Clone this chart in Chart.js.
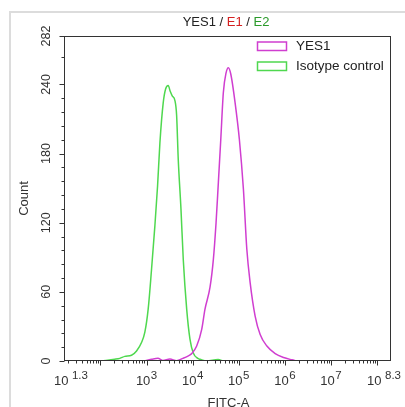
<!DOCTYPE html>
<html>
<head>
<meta charset="utf-8">
<script src="https://cdn.jsdelivr.net/npm/chart.js@4.4.1/dist/chart.umd.min.js"></script>
<style>
  html, body { margin: 0; padding: 0; background: #fff; }
  #wrap { width: 405px; height: 407px; position: relative; }
</style>
</head>
<body>
<div id="wrap"><canvas id="c" width="405" height="407"></canvas></div>
<script>
// ---- data (x = log10 of FITC-A intensity, y = count) ----
const yes1X = [2.637, 2.920, 3.109, 3.246, 3.354, 3.507, 3.652, 3.789, 3.898, 3.978, 4.087, 4.196, 4.267, 4.376, 4.448, 4.507, 4.557, 4.609, 4.665, 4.724, 4.774, 4.826, 4.920, 5.013, 5.100, 5.174, 5.246, 5.354, 5.463, 5.609, 5.789, 5.970, 6.152, 6.261];
const yes1Y = [0, 0, 1.5, 2.3, 0.5, 1.7, 0.3, 2.3, 4.3, 6.4, 13, 27.5, 45, 64, 88, 120, 155, 192, 233, 250, 254.5, 249, 224, 192, 149, 97, 68, 39, 23, 13, 6.4, 3, 1, 0];
const isoX = [2.022, 2.311, 2.420, 2.528, 2.674, 2.783, 2.891, 2.963, 3.035, 3.109, 3.180, 3.239, 3.289, 3.361, 3.413, 3.470, 3.513, 3.557, 3.615, 3.652, 3.687, 3.746, 3.796, 3.870, 3.941, 4.013, 4.122, 4.159, 4.304, 4.550, 4.659];
const isoY = [0, 1.5, 2.3, 4, 5, 8.7, 16, 25, 45, 80, 117, 152, 189, 224, 236, 239, 234, 230, 226, 213, 175, 132, 88, 45, 19, 7, 2, 1.5, 0, 1.2, 0];

const seriesNames = ['YES1', 'Isotype control'];
const seriesColors = ['#d03ed0', '#4fd84f'];

const xMin = 1.21, xMax = 8.3;
const xLabelPos = [1.3, 3, 4, 5, 6, 7, 8.3];
const xLabelExp = ['1.3', '3', '4', '5', '6', '7', '8.3'];
const xMajorTicks = [2, 3, 4, 5, 6, 7, 8];
const yMin = 0, yMax = 282;
const yTicks = [0, 60, 120, 180, 240, 282];
const yMinorTicks = [12, 24, 36, 48, 72, 84, 96, 108, 132, 144, 156, 168, 192, 204, 216, 228, 264];

const titleParts = [['YES1 / ', '#222'], ['E1', '#d42020'], [' / ', '#222'], ['E2', '#2a9a2a']];
const xTitle = 'FITC-A';
const yTitle = 'Count';

const FONT = '"Liberation Sans", Arial, sans-serif';

function pairs(xs, ys) { return xs.map((v, i) => ({ x: v, y: ys[i] })); }

const facsPlugin = {
  id: 'facs',
  beforeDraw(chart) {
    const ctx = chart.ctx;
    ctx.save();
    ctx.fillStyle = '#fff';
    ctx.fillRect(0, 0, chart.width, chart.height);
    ctx.strokeStyle = '#dcdcdc';
    ctx.lineWidth = 2;
    ctx.beginPath();
    ctx.moveTo(10, chart.height);
    ctx.lineTo(10, 12);
    ctx.lineTo(chart.width, 12);
    ctx.stroke();
    ctx.restore();
  },
  afterDatasetsDraw(chart) {
    const { ctx, chartArea: a, scales: { x, y } } = chart;
    ctx.save();
    // frame
    ctx.strokeStyle = '#333';
    ctx.lineWidth = 1;
    ctx.strokeRect(a.left + 0.5, a.top + 0.5, a.right - a.left - 1, a.bottom - a.top - 1);

    // x ticks
    ctx.beginPath();
    const by = a.bottom - 0.5;
    for (let d = 1; d <= 8; d++) {
      for (let m = 2; m <= 9; m++) {
        const e = d + Math.log10(m);
        if (e < xMin || e > xMax) continue;
        const px = Math.round(x.getPixelForValue(e)) + 0.5;
        ctx.moveTo(px, by); ctx.lineTo(px, by + 3);
      }
    }
    xMajorTicks.forEach(e => {
      const px = Math.round(x.getPixelForValue(e)) + 0.5;
      ctx.moveTo(px, by); ctx.lineTo(px, by + 5);
    });
    // y ticks
    const lx = a.left + 0.5;
    yMinorTicks.forEach(v => {
      const py = Math.round(y.getPixelForValue(v)) + 0.5;
      ctx.moveTo(lx, py); ctx.lineTo(lx - 3, py);
    });
    yTicks.forEach(v => {
      const py = Math.round(y.getPixelForValue(v)) + 0.5;
      ctx.moveTo(lx, py); ctx.lineTo(lx - 5, py);
    });
    ctx.stroke();

    // x tick labels: 10^n
    ctx.fillStyle = '#333';
    ctx.textBaseline = 'alphabetic';
    ctx.textAlign = 'left';
    const baseFont = '13px ' + FONT, supFont = '11.5px ' + FONT;
    xLabelPos.forEach((e, i) => {
      const px = x.getPixelForValue(e);
      ctx.font = baseFont;
      const w1 = ctx.measureText('10').width;
      ctx.font = supFont;
      const sup = xLabelExp[i];
      const gap = sup.length > 1 ? 3.5 : 0.5;
      const w2 = ctx.measureText(sup).width;
      let start = px - (w1 + gap + w2) / 2;
      if (start + w1 + gap + w2 > chart.width - 4) start = chart.width - 4 - (w1 + gap + w2);
      if (start < a.left - 10) start = a.left - 10;
      ctx.font = baseFont;
      ctx.fillText('10', start, 384.5);
      ctx.font = supFont;
      ctx.fillText(sup, start + w1 + gap, 379);
    });

    // y tick labels rotated
    ctx.font = '12.5px ' + FONT;
    ctx.textAlign = 'center';
    ctx.textBaseline = 'middle';
    yTicks.forEach(v => {
      const py = y.getPixelForValue(v);
      ctx.save();
      ctx.translate(46.5, py);
      ctx.rotate(-Math.PI / 2);
      ctx.fillText(String(v), 0, 0);
      ctx.restore();
    });

    // axis titles
    ctx.font = '13px ' + FONT;
    ctx.save();
    ctx.translate(24.5, (a.top + a.bottom) / 2);
    ctx.rotate(-Math.PI / 2);
    ctx.fillText(yTitle, 0, 0);
    ctx.restore();
    ctx.textBaseline = 'alphabetic';
    ctx.fillText(xTitle, (a.left + a.right) / 2 + 1, 406.5);

    // title (multi-colour)
    ctx.font = '13px ' + FONT;
    ctx.textAlign = 'left';
    ctx.textBaseline = 'middle';
    const total = titleParts.reduce((s, p) => s + ctx.measureText(p[0]).width, 0);
    let tx = 226 - total / 2;
    titleParts.forEach(p => {
      ctx.fillStyle = p[1];
      ctx.fillText(p[0], tx, 22.5);
      tx += ctx.measureText(p[0]).width;
    });

    // legend
    ctx.font = '13.5px ' + FONT;
    ctx.textBaseline = 'middle';
    chart.data.datasets.forEach((ds, i) => {
      const cy = 46.5 + i * 20;
      ctx.strokeStyle = ds.borderColor;
      ctx.lineWidth = 1.5;
      ctx.strokeRect(257.5, cy - 4.5, 29, 8.5);
      ctx.fillStyle = '#222';
      ctx.fillText(ds.label, 296, cy);
    });
    ctx.restore();
  }
};

new Chart(document.getElementById('c'), {
  type: 'line',
  data: {
    datasets: [
      { label: seriesNames[0], data: pairs(yes1X, yes1Y), borderColor: seriesColors[0] },
      { label: seriesNames[1], data: pairs(isoX, isoY), borderColor: seriesColors[1] }
    ]
  },
  options: {
    responsive: false,
    animation: false,
    devicePixelRatio: 1,
    layout: { padding: { left: 64, right: 14, top: 36, bottom: 46 } },
    elements: {
      point: { radius: 0 },
      line: { borderWidth: 1.5, cubicInterpolationMode: 'monotone', fill: false }
    },
    scales: {
      x: { type: 'linear', min: xMin, max: xMax, display: false },
      y: { type: 'linear', min: yMin, max: yMax, display: false }
    },
    plugins: {
      legend: { display: false },
      title: { display: false },
      tooltip: { enabled: false }
    }
  },
  plugins: [facsPlugin]
});
</script>
</body>
</html>
